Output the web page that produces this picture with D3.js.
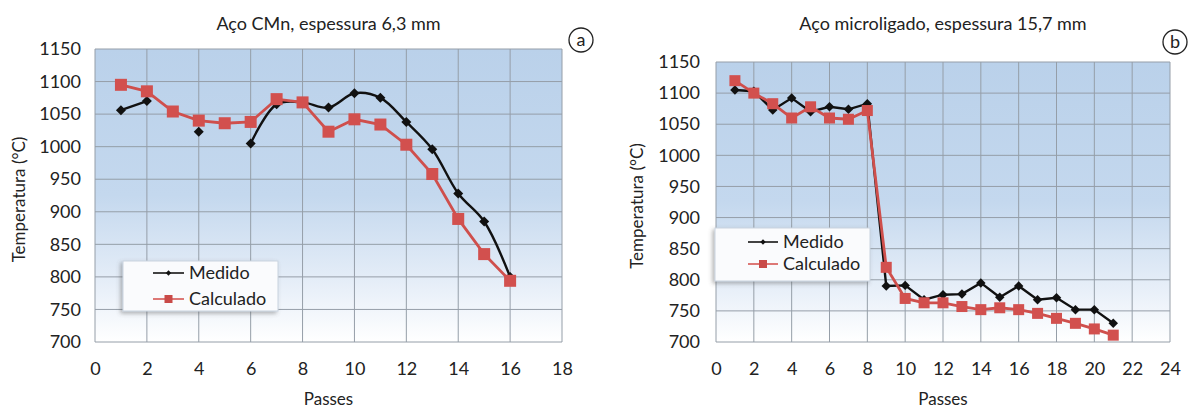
<!DOCTYPE html>
<html>
<head>
<meta charset="utf-8">
<script src="https://cdn.jsdelivr.net/npm/d3@7"></script>
<style>
  body { margin: 0; background: #fff; }
  svg text { font-family: Lato, "Open Sans", sans-serif; fill: #222; }
</style>
</head>
<body>
<div id="chart"></div>
<script>
// ---------- data ----------
var passesA = [1, 2, 3, 4, 5, 6, 7, 8, 9, 10, 11, 12, 13, 14, 15, 16];
var medidoA = [1056, 1070, null, 1023, null, 1005, 1065, 1068, 1060, 1082, 1075, 1038, 996, 928, 885, 800];
var calculadoA = [1095, 1085, 1054, 1040, 1036, 1038, 1073, 1068, 1023, 1042, 1034, 1003, 958, 889, 835, 794];

var passesB = [1, 2, 3, 4, 5, 6, 7, 8, 9, 10, 11, 12, 13, 14, 15, 16, 17, 18, 19, 20, 21];
var medidoB = [1105, 1103, 1073, 1092, 1070, 1078, 1074, 1083, 790, 791, 768, 776, 777, 795, 772, 790, 768, 771, 752, 752, 730];
var calculadoB = [1120, 1100, 1083, 1060, 1078, 1060, 1058, 1072, 820, 770, 763, 763, 757, 752, 755, 752, 746, 738, 730, 721, 711];

var yTicks = [700, 750, 800, 850, 900, 950, 1000, 1050, 1100, 1150];
var xTicksA = [0, 2, 4, 6, 8, 10, 12, 14, 16, 18];
var xTicksB = [0, 2, 4, 6, 8, 10, 12, 14, 16, 18, 20, 22, 24];

var W = 1192, H = 410;
var svg = d3.select("#chart").append("svg").attr("width", W).attr("height", H);

var defs = svg.append("defs");
var grad = defs.append("linearGradient").attr("id", "bg").attr("x1", 0).attr("y1", 0).attr("x2", 0).attr("y2", 1);
grad.append("stop").attr("offset", "0%").attr("stop-color", "#bad1ea");
grad.append("stop").attr("offset", "50%").attr("stop-color", "#c4d8ee");
grad.append("stop").attr("offset", "80%").attr("stop-color", "#e6eef8");
grad.append("stop").attr("offset", "100%").attr("stop-color", "#ffffff");

var shadow = defs.append("filter").attr("id", "shadow").attr("x", "-10%").attr("y", "-10%").attr("width", "130%").attr("height", "140%");
shadow.append("feDropShadow").attr("dx", -2).attr("dy", 2).attr("stdDeviation", 2).attr("flood-color", "#555").attr("flood-opacity", 0.45);

function drawChart(cfg) {
  var x = d3.scaleLinear().domain([0, cfg.xMax]).range([cfg.left, cfg.right]);
  var y = d3.scaleLinear().domain([700, 1150]).range([cfg.bottom, cfg.top]);
  var g = svg.append("g");

  g.append("rect")
    .attr("x", cfg.left).attr("y", cfg.top)
    .attr("width", cfg.right - cfg.left).attr("height", cfg.bottom - cfg.top)
    .attr("fill", "url(#bg)");

  // grid
  g.selectAll(".gx").data(cfg.xTicks).enter().append("line")
    .attr("x1", function(d) { return x(d); }).attr("x2", function(d) { return x(d); })
    .attr("y1", cfg.top).attr("y2", cfg.bottom)
    .attr("stroke", "#959ea8").attr("stroke-width", 1);
  g.selectAll(".gy").data(yTicks).enter().append("line")
    .attr("x1", cfg.left).attr("x2", cfg.right)
    .attr("y1", function(d) { return y(d); }).attr("y2", function(d) { return y(d); })
    .attr("stroke", "#959ea8").attr("stroke-width", 1);

  // axes
  var xAxis = d3.axisBottom(x).tickValues(cfg.xTicks).tickSize(0).tickPadding(20);
  var gx = g.append("g").attr("transform", "translate(0," + cfg.bottom + ")").call(xAxis);
  var yAxis = d3.axisLeft(y).tickValues(yTicks).tickSize(0).tickPadding(cfg.yPad).tickFormat(d3.format("d"));
  var gy = g.append("g").attr("transform", "translate(" + cfg.left + ",0)").call(yAxis);
  [gx, gy].forEach(function(a) {
    a.select(".domain").remove();
    a.selectAll("text").style("font-size", "18px").style("font-family", "Lato, sans-serif").attr("fill", "#222");
  });

  // titles
  g.append("text").attr("x", (cfg.left + cfg.right) / 2).attr("y", 30)
    .attr("text-anchor", "middle").style("font-size", "18px").text(cfg.title);
  g.append("text").attr("x", (cfg.left + cfg.right) / 2).attr("y", 405)
    .attr("text-anchor", "middle").style("font-size", "17px").text("Passes");
  g.append("text")
    .attr("transform", "translate(" + cfg.yLabelX + "," + ((cfg.top + cfg.bottom) / 2 + 4) + ") rotate(-90)")
    .attr("text-anchor", "middle").style("font-size", "17px").text("Temperatura (°C)");

  // circled letter
  g.append("circle").attr("cx", cfg.tagX).attr("cy", cfg.tagY).attr("r", 12)
    .attr("fill", "#fff").attr("stroke", "#222").attr("stroke-width", 1.3);
  g.append("text").attr("x", cfg.tagX).attr("y", cfg.tagY + 6)
    .attr("text-anchor", "middle").style("font-size", "18px").text(cfg.tag);

  // series
  var pts = function(xs, ys) {
    return xs.map(function(d, i) { return { x: d, y: ys[i] }; });
  };
  var med = pts(cfg.passes, cfg.medido);
  var cal = pts(cfg.passes, cfg.calculado);

  var line = d3.line()
    .defined(function(d) { return d.y != null; })
    .x(function(d) { return x(d.x); }).y(function(d) { return y(d.y); });

  g.append("path").datum(med)
    .attr("d", line.curve(cfg.medCurve))
    .attr("fill", "none").attr("stroke", "#111").attr("stroke-width", 2.4);
  g.selectAll(".md" + cfg.tag).data(med.filter(function(d) { return d.y != null; })).enter().append("path")
    .attr("d", d3.symbol().type(d3.symbolSquare).size(cfg.diaSize))
    .attr("transform", function(d) { return "translate(" + x(d.x) + "," + y(d.y) + ") rotate(45)"; })
    .attr("fill", "#111");

  g.append("path").datum(cal)
    .attr("d", line.curve(d3.curveLinear))
    .attr("fill", "none").attr("stroke", "#cf4f4c").attr("stroke-width", 2.8);
  g.selectAll(".cs" + cfg.tag).data(cal).enter().append("rect")
    .attr("x", function(d) { return x(d.x) - cfg.sq / 2; })
    .attr("y", function(d) { return y(d.y) - cfg.sq / 2; })
    .attr("width", cfg.sq).attr("height", cfg.sq)
    .attr("fill", "#d2504e");

  // legend
  var lg = g.append("g").attr("transform", "translate(" + cfg.legX + "," + cfg.legY + ")");
  lg.append("rect").attr("width", cfg.legW).attr("height", cfg.legH)
    .attr("fill", "#fafbfd").attr("stroke", "#c9d3df").attr("filter", "url(#shadow)");
  var items = [
    { name: "Medido", color: "#222" },
    { name: "Calculado", color: "#d7605e" }
  ];
  items.forEach(function(it, i) {
    var yy = cfg.legRow0 + i * cfg.legRowH;
    lg.append("line").attr("x1", cfg.legL0).attr("x2", cfg.legL1).attr("y1", yy).attr("y2", yy)
      .attr("stroke", it.color).attr("stroke-width", 1.7);
    var cx = (cfg.legL0 + cfg.legL1) / 2;
    if (i === 0) {
      lg.append("path").attr("d", d3.symbol().type(d3.symbolSquare).size(14))
        .attr("transform", "translate(" + cx + "," + yy + ") rotate(45)").attr("fill", "#111");
    } else {
      lg.append("rect").attr("x", cx - 4).attr("y", yy - 4).attr("width", 8).attr("height", 8).attr("fill", "#c94a48");
    }
    lg.append("text").attr("x", cfg.legL1 + 5).attr("y", yy + 6)
      .style("font-size", "18px").text(it.name);
  });
}

drawChart({
  left: 95, right: 562, top: 49, bottom: 342, xMax: 18,
  xTicks: xTicksA, passes: passesA, medido: medidoA, calculado: calculadoA,
  title: "Aço CMn, espessura 6,3 mm",
  yLabelX: 25, yPad: 14,
  tag: "a", tagX: 581, tagY: 40,
  medCurve: d3.curveCatmullRom.alpha(0.5),
  diaSize: 50, sq: 12,
  legX: 123, legY: 261, legW: 155, legH: 50, legL0: 30, legL1: 61, legRow0: 12, legRowH: 26
});

drawChart({
  left: 716, right: 1170, top: 62, bottom: 342, xMax: 24,
  xTicks: xTicksB, passes: passesB, medido: medidoB, calculado: calculadoB,
  title: "Aço microligado, espessura 15,7 mm",
  yLabelX: 643, yPad: 16,
  tag: "b", tagX: 1175, tagY: 42,
  medCurve: d3.curveLinear,
  diaSize: 45, sq: 11,
  legX: 715, legY: 228, legW: 155, legH: 53, legL0: 33, legL1: 63, legRow0: 14, legRowH: 22
});
</script>
</body>
</html>
